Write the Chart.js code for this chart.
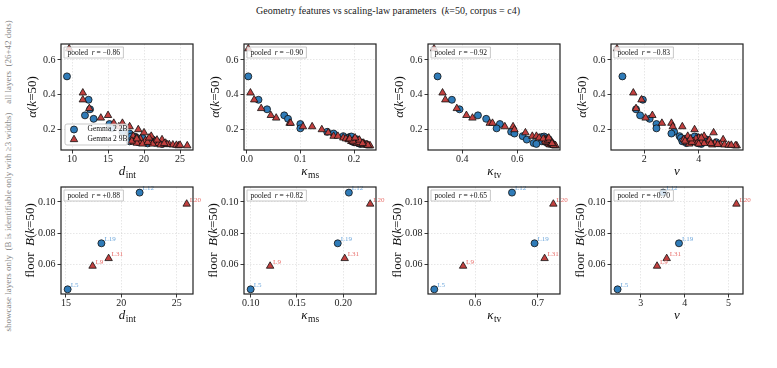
<!DOCTYPE html>
<html><head><meta charset="utf-8">
<script src="https://cdn.jsdelivr.net/npm/chart.js@4.4.0/dist/chart.umd.min.js"></script>
<style>
html,body{margin:0;padding:0;background:#fff;}
#wrap{position:relative;width:777px;height:368px;overflow:hidden;font-family:'Liberation Serif',serif;}
canvas{position:absolute;}
.t{position:absolute;white-space:nowrap;}
.rot{position:absolute;width:0;height:0;}
.rot span{position:absolute;left:0;top:0;transform:translate(-50%,-50%) rotate(-90deg);white-space:nowrap;color:#888;font-size:9px;font-family:'Liberation Serif',serif;}
</style></head><body><div id="wrap">
<div class="t" id="title" style="left:388px;top:5px;transform:translateX(-50%);font-size:10px;color:#222;">Geometry features vs scaling-law parameters&nbsp; (<i>k</i>=50, corpus = c4)</div>
<div class="rot" style="left:8px;top:62px;"><span>all layers&nbsp; (26+42 dots)</span></div>
<div class="rot" style="left:8px;top:222px;"><span>showcase layers only&nbsp; (B is identifiable only with ≥3 widths)</span></div>
</div>
<script>
// ---------- DATA ----------
// Gemma 2 2B: all 26 layers
const g2b_alpha = [0.505,0.370,0.315,0.280,0.260,0.230,0.205,0.185,0.175,0.160,0.155,0.150,0.145,0.140,0.135,0.130,0.128,0.125,0.120,0.118,0.115,0.150,0.158,0.142,0.132,0.122];
const g2b_dint  = [9.3,12.3,12.5,11.8,13.0,15.2,15.5,17.0,18.0,18.5,18.8,19.0,18.3,21.2,19.5,18.0,20.0,19.2,22.0,20.5,22.5,19.8,18.2,20.8,19.0,21.5];
const g2b_kms   = [0.003,0.022,0.038,0.070,0.077,0.100,0.100,0.150,0.162,0.180,0.192,0.195,0.198,0.200,0.203,0.196,0.205,0.200,0.208,0.210,0.212,0.190,0.195,0.205,0.198,0.207];
const g2b_ktv   = [0.310,0.362,0.390,0.457,0.487,0.537,0.525,0.578,0.590,0.620,0.690,0.700,0.705,0.635,0.700,0.690,0.712,0.705,0.660,0.715,0.670,0.708,0.698,0.715,0.718,0.720];
const g2b_nu    = [1.20,1.95,1.70,1.85,2.20,2.45,2.45,3.10,3.00,3.30,3.90,3.35,3.50,4.30,3.60,3.40,3.70,4.65,3.55,4.00,4.10,4.00,3.85,4.20,3.75,4.05];
// Gemma 2 9B: all 42 layers
const g9b_alpha = [0.665,0.410,0.370,0.320,0.280,0.265,0.235,0.235,0.215,0.215,0.198,0.180,0.160,0.160,0.150,0.145,0.140,0.140,0.135,0.130,0.128,0.125,0.122,0.120,0.120,0.118,0.115,0.112,0.110,0.108,0.105,0.105,0.110,0.115,0.125,0.132,0.138,0.145,0.150,0.112,0.108,0.118];
const g9b_dint  = [9.6,11.5,11.5,12.4,15.0,14.0,15.8,17.0,16.5,18.0,19.2,20.0,21.0,18.5,19.0,19.5,22.5,18.8,20.2,19.3,21.5,18.6,20.8,19.0,23.0,22.0,19.8,23.5,24.0,24.5,26.0,24.8,22.3,21.2,20.5,18.3,21.8,19.0,20.7,23.2,25.0,22.8];
const g9b_kms   = [0.003,0.007,0.014,0.027,0.045,0.055,0.080,0.082,0.105,0.122,0.140,0.152,0.162,0.170,0.180,0.185,0.200,0.190,0.205,0.195,0.210,0.200,0.212,0.215,0.218,0.205,0.215,0.220,0.222,0.225,0.228,0.230,0.218,0.212,0.208,0.198,0.210,0.192,0.202,0.224,0.226,0.216];
const g9b_ktv   = [0.297,0.328,0.338,0.380,0.415,0.437,0.500,0.510,0.555,0.585,0.590,0.630,0.655,0.670,0.680,0.700,0.705,0.710,0.715,0.720,0.708,0.712,0.722,0.718,0.725,0.730,0.715,0.728,0.732,0.735,0.738,0.740,0.720,0.725,0.705,0.702,0.712,0.695,0.715,0.730,0.733,0.727];
const g9b_nu    = [1.00,1.60,1.90,1.70,2.30,2.05,2.65,3.00,3.05,3.40,3.85,4.55,4.20,3.60,4.00,3.90,4.90,3.45,3.70,3.80,4.10,3.55,4.30,3.95,4.60,4.20,3.65,4.80,4.95,5.10,5.40,5.35,4.50,4.00,3.75,3.50,4.40,3.70,4.10,4.70,5.20,4.45];
// Showcase layers (floor B)
const sc2b_labels = ['L5','L12','L19'];
const sc2b_B      = [0.0440,0.1060,0.0735];
const sc2b_dint   = [15.15,21.65,18.2];
const sc2b_kms    = [0.100,0.206,0.194];
const sc2b_ktv    = [0.535,0.659,0.695];
const sc2b_nu     = [2.47,3.51,3.87];
const sc9b_labels = ['L9','L20','L31'];
const sc9b_B      = [0.0589,0.0987,0.0638];
const sc9b_dint   = [17.4,25.9,18.85];
const sc9b_kms    = [0.121,0.229,0.2015];
const sc9b_ktv    = [0.581,0.725,0.711];
const sc9b_nu     = [3.37,5.18,3.59];
const pooledTop    = ['−0.86','−0.90','−0.92','−0.83'];
const pooledBottom = ['+0.88','+0.82','+0.65','+0.70'];
const xTicksTop = [[10,15,20,25],[0,0.1,0.2],[0.4,0.6],[2,4]];
const xTickLabelsTop = [['10','15','20','25'],['0.0','0.1','0.2'],['0.4','0.6'],['2','4']];
const xTicksBottom = [[15,20,25],[0.10,0.15,0.20],[0.6,0.7],[3,4,5]];
const xTickLabelsBottom = [['15','20','25'],['0.10','0.15','0.20'],['0.6','0.7'],['3','4','5']];
const yTicksTop = [0.2,0.4,0.6];
const yTickLabelsTop = ['0.2','0.4','0.6'];
const yTicksBottom = [0.06,0.08,0.10];
const yTickLabelsBottom = ['0.06','0.08','0.10'];
const seriesNames = ['Gemma 2 2B','Gemma 2 9B'];
const featureTitles = [['d','int'],['κ','ms'],['κ','tv'],['ν','']];

// ---------- LAYOUT / STYLE ----------
const cols = [[61,193],[244,376],[428,560],[611,743]];
const rows = [[44,150],[187,294]];
const xRangeTop = [[8.47,26.8],[-0.005,0.241],[0.275,0.756],[0.78,5.63]];
const xRangeBottom = [[14.55,26.47],[0.0928,0.2353],[0.525,0.7356],[2.32,5.33]];
const yRangeTop = [0.08,0.692];
const yRangeBottom = [0.041,0.1096];
const BLUE='#2f7bb8', RED='#c2403f', BLUE_L='#6fa8dc', RED_L='#e8706c';
const FONT='"Liberation Serif", serif';
const PADL=60, PADT=8, PADR=12, PADB=40;

const g2b = {dint:g2b_dint,kms:g2b_kms,ktv:g2b_ktv,nu:g2b_nu};
const g9b = {dint:g9b_dint,kms:g9b_kms,ktv:g9b_ktv,nu:g9b_nu};
const s2b = {dint:sc2b_dint,kms:sc2b_kms,ktv:sc2b_ktv,nu:sc2b_nu};
const s9b = {dint:sc9b_dint,kms:sc9b_kms,ktv:sc9b_ktv,nu:sc9b_nu};
const feats = ['dint','kms','ktv','nu'];

function drawPieces(ctx, pieces, cx, cy, size){
  let w=0;
  pieces.forEach(p=>{ctx.font=(p.i?'italic ':'')+size+'px '+FONT; w+=ctx.measureText(p.t).width;});
  let x=cx-w/2;
  ctx.textAlign='left';
  pieces.forEach(p=>{ctx.font=(p.i?'italic ':'')+size+'px '+FONT; ctx.fillText(p.t,x,cy); x+=ctx.measureText(p.t).width;});
  return w;
}
function marker(ctx, type, x, y, color){
  ctx.save(); ctx.fillStyle=color; ctx.strokeStyle='#111'; ctx.lineWidth=0.8;
  ctx.beginPath();
  if(type==='circle'){ctx.arc(x,y,3.5,0,Math.PI*2);} else {
    const r=4.3; ctx.moveTo(x,y-r); ctx.lineTo(x+r*0.866,y+r*0.5); ctx.lineTo(x-r*0.866,y+r*0.5); ctx.closePath();
  }
  ctx.fill(); ctx.stroke(); ctx.restore();
}

function build(row,col){
  const [l,r]=cols[col]; const [t,b]=rows[row];
  const W=(r-l)+PADL+PADR, H=(b-t)+PADT+PADB;
  const cv=document.createElement('canvas');
  cv.width=W; cv.height=H; cv.style.left=(l-PADL)+'px'; cv.style.top=(t-PADT)+'px';
  cv.style.width=W+'px'; cv.style.height=H+'px';
  document.getElementById('wrap').appendChild(cv);
  const f=feats[col];
  const top=row===0;
  const dsA = top ? g2b[f].map((v,i)=>({x:v,y:g2b_alpha[i]})) : s2b[f].map((v,i)=>({x:v,y:sc2b_B[i]}));
  const dsB = top ? g9b[f].map((v,i)=>({x:v,y:g9b_alpha[i]})) : s9b[f].map((v,i)=>({x:v,y:sc9b_B[i]}));
  const xt = top?xTicksTop[col]:xTicksBottom[col];
  const xl = top?xTickLabelsTop[col]:xTickLabelsBottom[col];
  const yt = top?yTicksTop:yTicksBottom;
  const yl = top?yTickLabelsTop:yTickLabelsBottom;
  const xr = top?xRangeTop[col]:xRangeBottom[col];
  const yr = top?yRangeTop:yRangeBottom;
  const gridCfg = {color:'rgba(0,0,0,0.16)',lineWidth:0.6,drawTicks:true,tickLength:3.5,tickColor:'#222',tickWidth:0.9};
  const tickFont = {family:FONT,size:10};
  const plugin = {
    id:'deco',
    afterDatasetsDraw(chart){
      const ctx=chart.ctx, a=chart.chartArea;
      if(!top){
        [[sc2b_labels,BLUE_L],[sc9b_labels,RED_L]].forEach(([labs,c],di)=>{
          const meta=chart.getDatasetMeta(di);
          ctx.save(); ctx.font='7px '+FONT; ctx.fillStyle=c; ctx.textBaseline='middle'; ctx.textAlign='left';
          meta.data.forEach((el,j)=>ctx.fillText(labs[j],el.x+3,el.y-4));
          ctx.restore();
        });
      }
      ctx.save(); ctx.strokeStyle='#222'; ctx.lineWidth=1.2;
      ctx.strokeRect(a.left,a.top,a.right-a.left,a.bottom-a.top); ctx.restore();
      ctx.save();
      const pieces=[{t:'pooled  '},{t:'r',i:true},{t:' = '+(top?pooledTop[col]:pooledBottom[col])}];
      let w=0; pieces.forEach(p=>{ctx.font=(p.i?'italic ':'')+'7.5px '+FONT; w+=ctx.measureText(p.t).width;});
      const bx=a.left+3, by=a.top+3, bw=w+7, bh=11;
      ctx.fillStyle='rgba(255,255,255,0.8)'; ctx.strokeStyle='#bbb'; ctx.lineWidth=0.8;
      ctx.beginPath(); ctx.rect(bx,by,bw,bh); ctx.fill(); ctx.stroke();
      ctx.fillStyle='#111'; ctx.textBaseline='middle';
      drawPieces(ctx,pieces,bx+bw/2,by+bh/2+0.5,7.5);
      ctx.restore();
      if(top && col===0){
        ctx.save();
        const lx=a.left+4, ly=a.bottom-26, lw=63, lh=21;
        ctx.fillStyle='rgba(255,255,255,0.85)'; ctx.strokeStyle='#bbb'; ctx.lineWidth=0.8;
        ctx.beginPath(); ctx.roundRect(lx,ly,lw,lh,2); ctx.fill(); ctx.stroke();
        marker(ctx,'circle',lx+9,ly+5.5,BLUE);
        marker(ctx,'triangle',lx+9,ly+15.5,RED);
        ctx.fillStyle='#111'; ctx.font='7.5px '+FONT; ctx.textBaseline='middle'; ctx.textAlign='left';
        ctx.fillText(seriesNames[0],lx+22.5,ly+5.5);
        ctx.fillText(seriesNames[1],lx+22.5,ly+15.5);
        ctx.restore();
      }
      ctx.save(); ctx.fillStyle='#111'; ctx.textBaseline='alphabetic';
      const ft=featureTitles[col];
      ctx.font='italic 13px '+FONT; const mw=ctx.measureText(ft[0]).width;
      ctx.font='9.5px '+FONT; const sw=ft[1]?ctx.measureText(ft[1]).width:0;
      const cx=(a.left+a.right)/2, x0=cx-(mw+sw)/2, base=a.bottom+25;
      ctx.textAlign='left';
      ctx.font='italic 13px '+FONT; ctx.fillText(ft[0],x0,base);
      if(ft[1]){ctx.font='9.5px '+FONT; ctx.fillText(ft[1],x0+mw+0.5,base+3);}
      ctx.translate(a.left-(top?28:30),(a.top+a.bottom)/2); ctx.rotate(-Math.PI/2);
      ctx.textBaseline='middle';
      const yp = top ? [{t:'α',i:true},{t:'('},{t:'k',i:true},{t:'=50)'}]
                     : [{t:'floor  '},{t:'B',i:true},{t:'('},{t:'k',i:true},{t:'=50)'}];
      drawPieces(ctx,yp,0,0,13);
      ctx.restore();
    }
  };
  new Chart(cv,{
    type:'scatter',
    data:{datasets:[
      {label:seriesNames[0],data:dsA,pointStyle:'circle',pointRadius:3.5,pointBackgroundColor:BLUE,pointBorderColor:'#111',pointBorderWidth:0.8,order:1},
      {label:seriesNames[1],data:dsB,pointStyle:'triangle',pointRadius:4.3,pointBackgroundColor:RED,pointBorderColor:'#111',pointBorderWidth:0.8,order:0}
    ]},
    options:{
      responsive:false,animation:false,events:[],
      devicePixelRatio:1,
      layout:{padding:{left:0,top:PADT,right:PADR,bottom:0}},
      plugins:{legend:{display:false},tooltip:{enabled:false}},
      scales:{
        x:{type:'linear',min:xr[0],max:xr[1],
           afterBuildTicks:s=>{s.ticks=xt.map(v=>({value:v}));},
           afterFit:s=>{s.height=PADB;},
           ticks:{font:tickFont,color:'#222',padding:0,maxRotation:0,autoSkip:false,callback:(v,i)=>xl[i]},
           grid:gridCfg,border:{display:false,dash:[1.5,1.5]}},
        y:{type:'linear',min:yr[0],max:yr[1],
           afterBuildTicks:s=>{s.ticks=yt.map(v=>({value:v}));},
           afterFit:s=>{s.width=PADL;},
           ticks:{font:tickFont,color:'#222',padding:2,autoSkip:false,callback:(v,i)=>yl[i]},
           grid:gridCfg,border:{display:false,dash:[1.5,1.5]}}
      }
    },
    plugins:[plugin]
  });
}
for(let row=0;row<2;row++) for(let col=0;col<4;col++) build(row,col);
</script>
</body></html>
